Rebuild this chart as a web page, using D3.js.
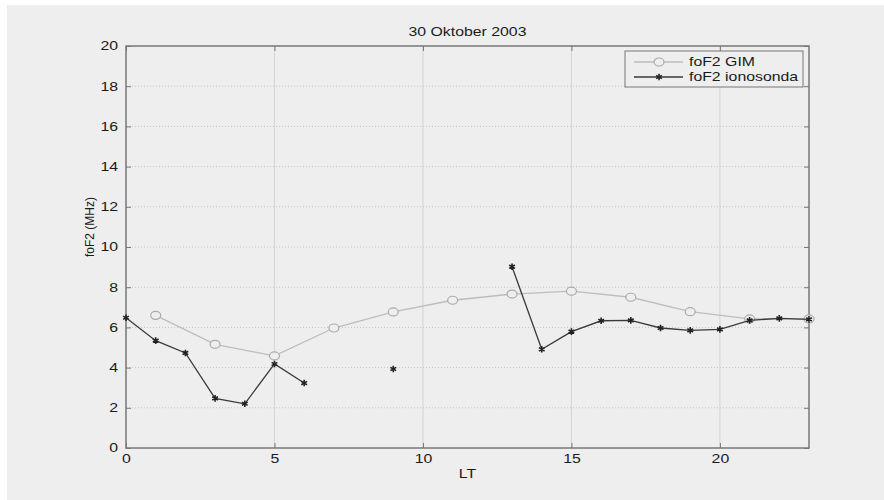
<!DOCTYPE html>
<meta charset="utf-8">
<script src="https://d3js.org/d3.v7.min.js"></script>
<style>
  body { margin: 0; background: #fff; }
  text { font-family: "Liberation Sans", Arial, sans-serif; fill: #1a1a1a; }
</style>
<div id="chart"></div>
<script>

// data
var gimHours = [1, 3, 5, 7, 9, 11, 13, 15, 17, 19, 21, 23];
var gimValues = [6.6, 5.16, 4.58, 5.97, 6.77, 7.35, 7.66, 7.8, 7.5, 6.78, 6.42, 6.42];

var ionoHours = [0, 1, 2, 3, 4, 5, 6, 7, 8, 9, 10, 11, 12, 13, 14, 15, 16, 17, 18, 19, 20, 21, 22, 23];
var ionoValues = [6.48, 5.34, 4.73, 2.47, 2.2, 4.18, 3.23, null, null, 3.93, null, null, null,
                  9.02, 4.91, 5.79, 6.33, 6.35, 5.97, 5.85, 5.9, 6.35, 6.45, 6.4];

var xTicks = [0, 5, 10, 15, 20];
var yTicks = [0, 2, 4, 6, 8, 10, 12, 14, 16, 18, 20];

var W = 884, H = 500;
var margin = {top: 46, right: 75, bottom: 52, left: 126},
    width = W - margin.left - margin.right,
    height = H - margin.top - margin.bottom;

// the original picture is stretched sideways, so horizontal text gets widened too
var sx = 1.32;
function widen(sel) {
  sel.each(function() {
    var t = d3.select(this);
    var tx = +t.attr("x") || 0;
    t.attr("x", tx / sx).attr("transform", "scale(" + sx + ",1)");
  });
}

var root = d3.select("#chart").append("svg")
    .attr("width", W)
    .attr("height", H);

// figure background
root.append("rect")
    .attr("x", 7).attr("y", 5)
    .attr("width", W - 7).attr("height", H - 5)
    .attr("fill", "#eeeeee");

var svg = root.append("g")
    .attr("transform", "translate(" + margin.left + "," + margin.top + ")");

var x = d3.scaleLinear().domain([0, 23]).range([0, width]);
var y = d3.scaleLinear().domain([0, 20]).range([height, 0]);

// grid
svg.selectAll(".vgrid")
  .data(xTicks.filter(function(d) { return d > 0; }))
  .enter().append("line")
    .attr("x1", function(d) { return x(d); })
    .attr("x2", function(d) { return x(d); })
    .attr("y1", 0).attr("y2", height)
    .attr("stroke", "#d4d4d4")
    .attr("stroke-width", 1);

svg.selectAll(".hgrid")
  .data(yTicks.filter(function(d) { return d > 0 && d < 20; }))
  .enter().append("line")
    .attr("x1", 0).attr("x2", width)
    .attr("y1", function(d) { return y(d); })
    .attr("y2", function(d) { return y(d); })
    .attr("stroke", "#c4c4c4")
    .attr("stroke-width", 1)
    .attr("stroke-dasharray", "1,2");

// axes (ticks pointing inward like matlab)
var axisColor = "#777";
function styleAxis(g) {
  g.select(".domain").remove();
  g.selectAll(".tick line").attr("stroke", axisColor);
  g.selectAll(".tick text")
    .style("font-size", "12px")
    .attr("fill", "#1a1a1a")
    .call(widen);
}

svg.append("g")
    .attr("transform", "translate(0," + height + ")")
    .call(d3.axisBottom(x).tickValues(xTicks).tickSizeInner(-5).tickSizeOuter(0).tickPadding(6))
    .call(styleAxis);

svg.append("g")
    .call(d3.axisLeft(y).tickValues(yTicks).tickSizeInner(-5).tickSizeOuter(0).tickPadding(8))
    .call(styleAxis);

svg.append("g")
    .call(d3.axisTop(x).tickValues(xTicks).tickSizeInner(-5).tickSizeOuter(0).tickFormat(""))
    .call(styleAxis);

svg.append("g")
    .attr("transform", "translate(" + width + ",0)")
    .call(d3.axisRight(y).tickValues(yTicks).tickSizeInner(-5).tickSizeOuter(0).tickFormat(""))
    .call(styleAxis);

svg.append("rect")
    .attr("width", width).attr("height", height)
    .attr("fill", "none")
    .attr("stroke", axisColor)
    .attr("stroke-width", 1.5);

// series
var gim = gimHours.map(function(h, i) { return {h: h, v: gimValues[i]}; });
var iono = ionoHours.map(function(h, i) { return {h: h, v: ionoValues[i]}; });

var line = d3.line()
    .defined(function(d) { return d.v != null; })
    .x(function(d) { return x(d.h); })
    .y(function(d) { return y(d.v); });

svg.append("path")
    .datum(gim)
    .attr("fill", "none")
    .attr("stroke", "#bdbdbd")
    .attr("stroke-width", 1.3)
    .attr("d", line);

svg.selectAll(".gim")
  .data(gim)
  .enter().append("ellipse")
    .attr("cx", function(d) { return x(d.h); })
    .attr("cy", function(d) { return y(d.v); })
    .attr("rx", 5).attr("ry", 4)
    .attr("fill", "#eeeeee")
    .attr("stroke", "#aaaaaa")
    .attr("stroke-width", 1.2);

svg.append("path")
    .datum(iono)
    .attr("fill", "none")
    .attr("stroke", "#3a3a3a")
    .attr("stroke-width", 1.3)
    .attr("d", line);

var star = d3.symbol().type(d3.symbolAsterisk).size(30);
svg.selectAll(".iono")
  .data(iono.filter(function(d) { return d.v != null; }))
  .enter().append("path")
    .attr("transform", function(d) { return "translate(" + x(d.h) + "," + y(d.v) + ")"; })
    .attr("d", star)
    .attr("fill", "none")
    .attr("stroke", "#222")
    .attr("stroke-width", 1.6);

// title and labels
svg.append("text")
    .attr("x", width / 2)
    .attr("y", -10)
    .attr("text-anchor", "middle")
    .style("font-size", "12px")
    .text("30 Oktober 2003")
    .call(widen);

svg.append("text")
    .attr("x", width / 2)
    .attr("y", height + 30)
    .attr("text-anchor", "middle")
    .style("font-size", "12px")
    .text("LT")
    .call(widen);

svg.append("text")
    .attr("transform", "rotate(-90)")
    .attr("x", -height / 2 + 20)
    .attr("y", -32)
    .attr("text-anchor", "middle")
    .style("font-size", "12px")
    .text("foF2 (MHz)");

// legend
var lg = svg.append("g").attr("transform", "translate(" + (625 - margin.left) + "," + (51 - margin.top) + ")");
lg.append("rect")
    .attr("width", 178).attr("height", 36)
    .attr("fill", "#eeeeee")
    .attr("stroke", "#777")
    .attr("stroke-width", 1);

lg.append("line").attr("x1", 9).attr("x2", 58).attr("y1", 11).attr("y2", 11)
    .attr("stroke", "#bdbdbd").attr("stroke-width", 1.3);
lg.append("ellipse").attr("cx", 34).attr("cy", 11).attr("rx", 5).attr("ry", 4)
    .attr("fill", "#eeeeee").attr("stroke", "#aaaaaa").attr("stroke-width", 1.2);
lg.append("text").attr("x", 64).attr("y", 15).style("font-size", "12px").text("foF2 GIM").call(widen);

lg.append("line").attr("x1", 9).attr("x2", 58).attr("y1", 26).attr("y2", 26)
    .attr("stroke", "#3a3a3a").attr("stroke-width", 1.3);
lg.append("path").attr("transform", "translate(34,26)").attr("d", star)
    .attr("fill", "none").attr("stroke", "#222").attr("stroke-width", 1.6);
lg.append("text").attr("x", 64).attr("y", 30).style("font-size", "12px").text("foF2 ionosonda").call(widen);

</script>
